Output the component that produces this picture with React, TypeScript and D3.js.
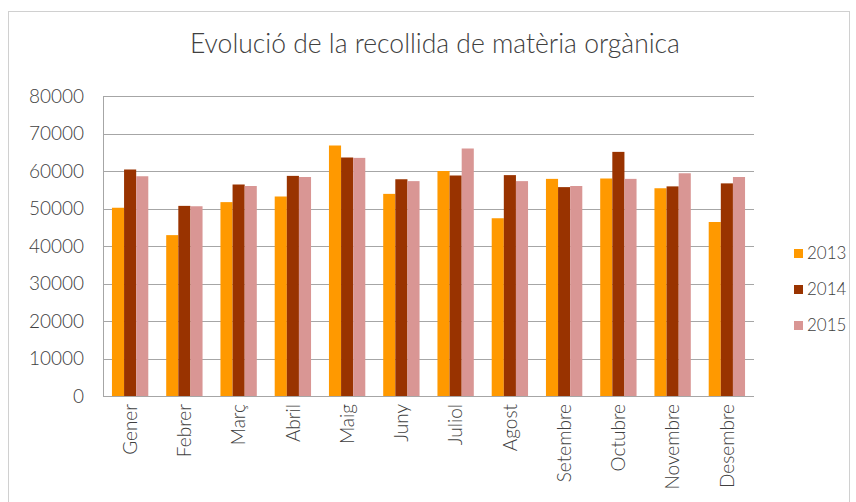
import * as d3 from "d3";
import React, { useEffect, useRef } from "react";

const months = ["Gener", "Febrer", "Març", "Abril", "Maig", "Juny", "Juliol", "Agost", "Setembre", "Octubre", "Novembre", "Desembre"];
const years = ["2013", "2014", "2015"];
const colours = ["#FF9900", "#993300", "#D99694"];

const values2013 = [50200, 42900, 51700, 53200, 66800, 53900, 60000, 47400, 57900, 58000, 55400, 46400];
const values2014 = [60400, 50700, 56400, 58700, 63600, 57800, 58800, 58900, 55700, 65100, 55900, 56700];
const values2015 = [58600, 50600, 56000, 58400, 63500, 57300, 66000, 57300, 56000, 57900, 59400, 58400];
const yTicks = [0, 10000, 20000, 30000, 40000, 50000, 60000, 70000, 80000];

const title = "Evolució de la recollida de matèria orgànica";

function App() {
    const svgRef: any = useRef<any>(null);

    const width = 856;
    const height = 502;
    const plotLeft = 103;
    const plotRight = 754;
    const plotTop = 96;
    const plotBottom = 396;
    const font = "Lato, 'Open Sans', sans-serif";

    useEffect(() => {
        draw();
    }, []);

    const draw = () => {
        const svg = d3.select(svgRef.current);
        svg.selectAll("*").remove();

        // outer chart frame
        svg.append("rect")
            .attr("x", 8.5).attr("y", 11.5)
            .attr("width", 841).attr("height", 500)
            .attr("fill", "white")
            .attr("stroke", "#D0D0D0");

        const x0 = d3.scaleBand<string>()
            .domain(months)
            .range([plotLeft, plotRight])
            .paddingInner(0.33)
            .paddingOuter(0.165);

        const x1 = d3.scaleBand<string>()
            .domain(years)
            .range([0, x0.bandwidth()]);

        const y = d3.scaleLinear().domain([0, 80000]).range([plotBottom, plotTop]);

        const series = [values2013, values2014, values2015];

        // grid
        svg.append("g")
            .selectAll("line")
            .data(yTicks)
            .join("line")
            .attr("x1", plotLeft)
            .attr("x2", plotRight)
            .attr("y1", d => Math.round(y(d)) + 0.5)
            .attr("y2", d => Math.round(y(d)) + 0.5)
            .attr("stroke", "#A6A6A6")
            .attr("stroke-width", 1);

        svg.append("line")
            .attr("x1", plotLeft + 0.5).attr("x2", plotLeft + 0.5)
            .attr("y1", plotTop).attr("y2", plotBottom)
            .attr("stroke", "#A6A6A6");

        // bars
        const groups = svg.append("g")
            .selectAll("g")
            .data(months)
            .join("g")
            .attr("transform", d => `translate(${x0(d)},0)`);

        groups.selectAll("rect")
            .data((_, i) => years.map((yr, k) => ({ yr, k, v: series[k][i] })))
            .join("rect")
            .attr("x", d => x1(d.yr) as number)
            .attr("width", x1.bandwidth())
            .attr("y", d => y(d.v))
            .attr("height", d => plotBottom - y(d.v))
            .attr("fill", d => colours[d.k]);

        // bottom axis line over the bars
        svg.append("line")
            .attr("x1", plotLeft).attr("x2", plotRight)
            .attr("y1", plotBottom + 0.5).attr("y2", plotBottom + 0.5)
            .attr("stroke", "#A6A6A6");

        // y labels
        svg.append("g")
            .selectAll("text")
            .data(yTicks)
            .join("text")
            .attr("x", 84)
            .attr("y", d => y(d))
            .attr("dy", "0.35em")
            .attr("text-anchor", "end")
            .attr("font-family", font)
            .attr("font-weight", 300)
            .attr("font-size", 19)
            .attr("fill", "#404040")
            .text(d => d);

        // x labels
        svg.append("g")
            .selectAll("text")
            .data(months)
            .join("text")
            .attr("transform", d => `translate(${(x0(d) as number) + x0.bandwidth() / 2},${plotBottom + 8}) rotate(-90)`)
            .attr("dy", "0.35em")
            .attr("text-anchor", "end")
            .attr("font-family", font)
            .attr("font-weight", 300)
            .attr("font-size", 19)
            .attr("fill", "#404040")
            .text(d => d);

        // title
        svg.append("text")
            .attr("x", 435)
            .attr("y", 53)
            .attr("text-anchor", "middle")
            .attr("font-family", font)
            .attr("font-weight", 300)
            .attr("font-size", 26.5)
            .attr("fill", "#404040")
            .text(title);

        // legend
        const legend = svg.append("g")
            .selectAll("g")
            .data(years)
            .join("g")
            .attr("transform", (_, i) => `translate(794,${249 + i * 36})`);

        legend.append("rect")
            .attr("width", 9).attr("height", 9)
            .attr("fill", (_, i) => colours[i]);

        legend.append("text")
            .attr("x", 13)
            .attr("y", 10)
            .attr("font-family", font)
            .attr("font-weight", 300)
            .attr("font-size", 17)
            .attr("fill", "#404040")
            .text(d => d);
    };

    return (
        <svg
            ref={svgRef}
            width={width}
            height={height}
            style={{ position: "absolute", left: 0, top: 0 }}
        />
    );
}

export default App;
